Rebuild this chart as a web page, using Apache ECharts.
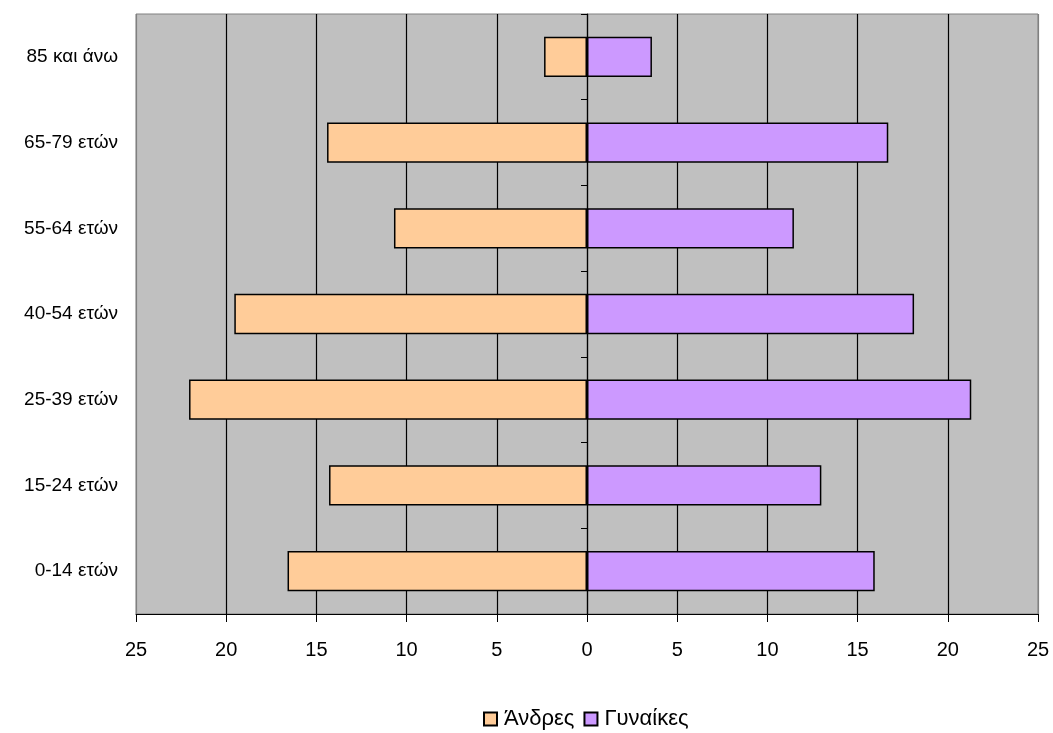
<!DOCTYPE html>
<html>
<head>
<meta charset="utf-8">
<script src="https://cdn.jsdelivr.net/npm/echarts@6/dist/echarts.min.js"></script>
<style>html,body{margin:0;padding:0;background:#fff;}#c{width:1053px;height:733px;}</style>
</head>
<body>
<div id="c"></div>
<script>
const categories = ['0-14 ετών', '15-24 ετών', '25-39 ετών', '40-54 ετών', '55-64 ετών', '65-79 ετών', '85 και άνω'];
const men = [16.6, 14.3, 22.06, 19.55, 10.7, 14.41, 2.38];
const women = [15.95, 12.99, 21.3, 18.13, 11.47, 16.7, 3.6];
const seriesNames = ['Άνδρες', 'Γυναίκες'];
const xTicks = { min: -25, max: 25, interval: 5 };

const chart = echarts.init(document.getElementById('c'));
const font = '"Liberation Sans", Arial, sans-serif';
const splitColors = ['#808080'];
for (let i = 1; i < 10; i++) splitColors.push('#000');
splitColors.push('#808080');

chart.setOption({
  animation: false,
  textStyle: { fontFamily: font },
  grid: { left: 136, right: 15, top: 14, bottom: 119, show: true, backgroundColor: '#C0C0C0', borderColor: '#808080', borderWidth: 1 },
  legend: {
    top: 708, left: 483, padding: 0,
    itemWidth: 13, itemHeight: 13, itemGap: 9,
    icon: 'rect',
    textStyle: { fontSize: 22, color: '#000', fontFamily: font, padding: [0, 0, 0, 2] },
    data: seriesNames
  },
  xAxis: {
    type: 'value', min: xTicks.min, max: xTicks.max, interval: xTicks.interval,
    axisLine: { show: true, onZero: false, lineStyle: { color: '#000', width: 1 } },
    axisTick: { show: true, length: 8, lineStyle: { color: '#000' } },
    axisLabel: { fontSize: 20, color: '#000', margin: 26, fontFamily: font, formatter: v => Math.abs(v) },
    splitLine: { show: true, lineStyle: { color: splitColors, width: 1.2 } }
  },
  yAxis: [
    {
      type: 'category', data: categories, position: 'left',
      axisLine: { show: false, onZero: false }, axisTick: { show: false },
      axisLabel: { fontSize: 19, color: '#000', margin: 18, fontFamily: font }
    },
    {
      type: 'category', data: categories, position: 'left',
      axisLine: { show: true, onZero: true, lineStyle: { color: '#000', width: 1.2 } },
      axisTick: { show: true, length: 6, inside: false, lineStyle: { color: '#000' } },
      axisLabel: { show: false }
    }
  ],
  series: [
    {
      name: seriesNames[0], type: 'bar', stack: 'total', yAxisIndex: 0,
      data: men.map(v => -v), barCategoryGap: '53%',
      itemStyle: { color: '#FFCC99', borderColor: '#000', borderWidth: 1.5 }
    },
    {
      name: seriesNames[1], type: 'bar', stack: 'total', yAxisIndex: 0,
      data: women, barCategoryGap: '53%',
      itemStyle: { color: '#CC99FF', borderColor: '#000', borderWidth: 1.5 }
    }
  ]
});
</script>
</body>
</html>
